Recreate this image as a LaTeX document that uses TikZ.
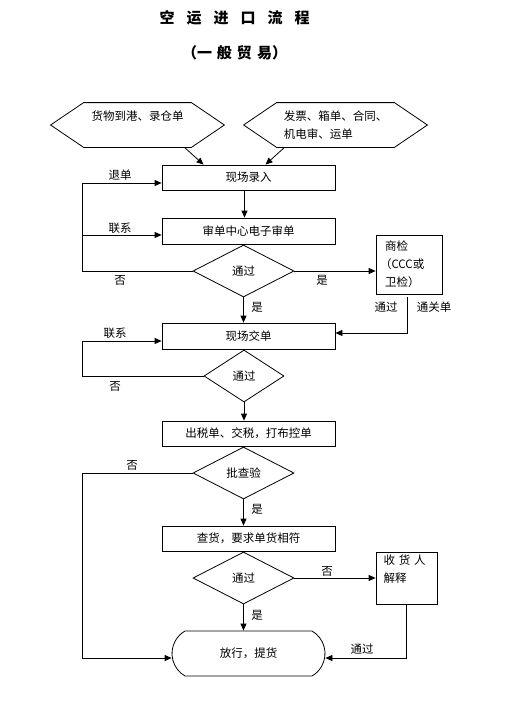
\documentclass[tikz,border=0pt]{standalone}
\usepackage{fontspec}
\setmainfont{Noto Sans CJK SC}
\usetikzlibrary{shapes.geometric,shapes.misc,arrows.meta}

\tikzstyle{txt}=[font=\fontsize{11.5}{18}\selectfont, inner sep=0pt]
\tikzstyle{box}=[txt, draw, rectangle, minimum width=173pt, minimum height=25pt]
\tikzstyle{dec}=[txt, draw, diamond, minimum width=101pt, minimum height=52pt]
\tikzstyle{hexa}=[txt, draw=none, minimum height=44pt]
\tikzstyle{side}=[txt, draw, rectangle, text width=48pt, align=left]
\tikzstyle{term}=[txt, draw, rounded rectangle, rounded rectangle arc length=120, minimum width=153pt, minimum height=45pt]
\tikzstyle{arr}=[-{Triangle[length=7pt,width=6pt]}]

\begin{document}
\begin{tikzpicture}[x=1pt, y=-1pt, line width=0.8pt]
\useasboundingbox (0,0) rectangle (512,704);

\def \tgap {\hspace{12pt}}
\node[font=\fontsize{15}{15}\selectfont\bfseries] (title) at (234.5,18) {空\tgap 运\tgap 进\tgap 口\tgap 流\tgap 程};
\node[font=\fontsize{15}{15}\selectfont\bfseries] (sub) at (234.5,53) {（一\hspace{5pt}般\hspace{5pt}贸\hspace{5pt}易）};

\node[hexa, minimum width=173pt, align=center] (hexL) at (137.5,125) {货物到港、录仓单\\\mbox{}};
\node[hexa, minimum width=183pt, align=left] (hexR) at (335.5,125) {发票、箱单、合同、\\机电审、运单};
\foreach \h in {hexL,hexR}{
  \draw (\h.west) -- ([xshift=33]\h.north west) -- ([xshift=-33]\h.north east)
    -- (\h.east) -- ([xshift=-33]\h.south east) -- ([xshift=33]\h.south west) -- cycle;
}

\node[box] (b1) at (248.5,177.5) {现场录入};
\node[box, minimum height=26pt] (b2) at (248.5,231) {审单中心电子审单};
\node[dec] (d1) at (243.5,271) {通过};
\node[side, minimum width=66pt, minimum height=59pt] (sj) at (409,264.5) {商检\\\hspace{-5pt}（CCC或\\卫检）};
\node[box, minimum height=26pt] (b3) at (248.5,336) {现场交单};
\node[dec, minimum width=80pt] (d2) at (244,376) {通过};
\node[box] (b4) at (248.5,433.5) {出税单、交税，打布控单};
\node[dec] (d3) at (243.5,473) {批查验};
\node[box] (b5) at (248.5,538.5) {查货，要求单货相符};
\node[dec] (d4) at (243.5,578) {通过};
\node[side, minimum width=61pt, minimum height=52pt, text width=46pt] (js) at (406.5,578) {收 货 人\\解释\\\mbox{}};
\node[term] (fx) at (248.5,653.5) {放行，提货};

\coordinate (c1) at (82,183);
\coordinate (c2) at (82,235);
\coordinate (c3) at (82,341);
\coordinate (c4) at (82,658);
\coordinate (c5) at (406.5,658);

\draw[arr] ([xshift=47]hexL.south) -- ([xshift=-45]b1.north);
\draw[arr] ([xshift=-51]hexR.south) -- ([xshift=17]b1.north);
\draw[arr] ([xshift=-4]b1.south) -- ([xshift=-4]b2.north);
\draw[arr] (d1.west) -| (c1) -- (c1 -| b1.west);
\draw[arr] (c2) -- (c2 -| b2.west);
\draw[arr] (d1.east) -- (d1.east -| sj.west);
\draw[arr] (d1.south) -- (d1.south |- b3.north);
\draw[arr] ([xshift=-2,yshift=-3]sj.south) |- ([yshift=3]b3.east);
\draw[arr] (d2.west) -| (c3) -- (c3 -| b3.west);
\draw[arr] (d2.south) -- (d2.south |- b4.north);
\draw[arr] (d3.west) -| (c4) -- (c4 -| fx.west);
\draw[arr] (d3.south) -- (d3.south |- b5.north);
\draw[arr] (d4.east) -- (d4.east -| js.west);
\draw[arr] (d4.south) -- (d4.south |- fx.north);
\draw[arr] (js.south) -- (c5) -- (c5 -| fx.east);

\foreach \t/\x/\y [count=\i] in {退单/120/175, 联系/120/228, 否/120/280, 是/322/280,
  是/257/307, 通过/386/307, 通关单/434/307, 联系/115/333, 否/115/386, 否/132/465,
  是/257/509, 否/327/571, 是/257/615, 通过/362/649}{
  \node[txt] (lb\i) at (\x,\y) {\t};
}

\end{tikzpicture}
\end{document}
